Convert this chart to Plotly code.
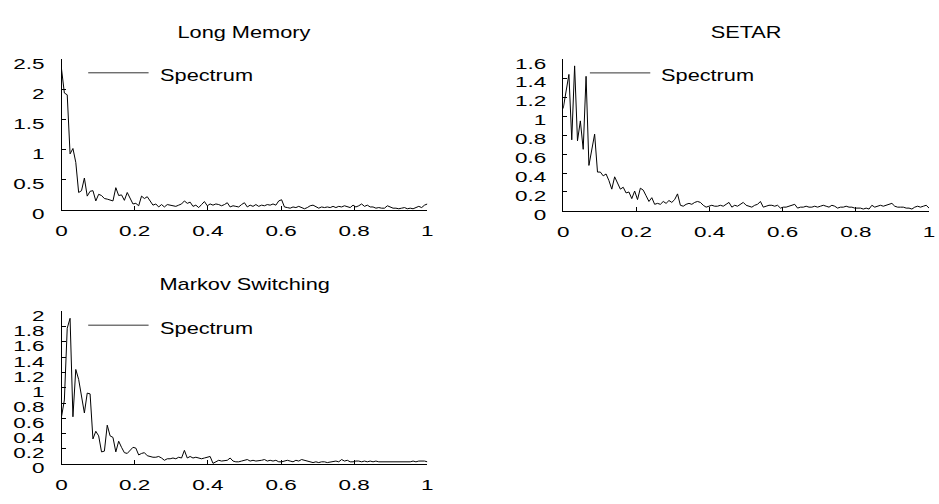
import numpy as np
import plotly.graph_objects as go

# Frequency grid (129 ordinates on [0, 1])
n_points = 129
freq = [i / (n_points - 1) for i in range(n_points)]

long_memory = [
    2.34, 1.94, 1.91, 0.93, 1.02, 0.79, 0.29, 0.32, 0.53, 0.23,
    0.31, 0.32, 0.15, 0.26, 0.24, 0.19, 0.18, 0.17, 0.15, 0.37,
    0.24, 0.25, 0.16, 0.29, 0.18, 0.10, 0.11, 0.07, 0.23, 0.19,
    0.22, 0.14, 0.08, 0.10, 0.05, 0.09, 0.05, 0.09, 0.08, 0.07,
    0.06, 0.08, 0.10, 0.15, 0.11, 0.13, 0.06, 0.08, 0.04, 0.09,
    0.14, 0.07, 0.10, 0.08, 0.10, 0.09, 0.07, 0.09, 0.12, 0.05,
    0.07, 0.06, 0.05, 0.09, 0.12, 0.05, 0.08, 0.06, 0.09, 0.06,
    0.08, 0.07, 0.09, 0.08, 0.10, 0.08, 0.15, 0.17, 0.05, 0.04,
    0.03, 0.05, 0.04, 0.06, 0.04, 0.02, 0.04, 0.07, 0.08, 0.05,
    0.03, 0.05, 0.04, 0.05, 0.04, 0.06, 0.04, 0.06, 0.05, 0.07,
    0.05, 0.04, 0.08, 0.05, 0.07, 0.10, 0.06, 0.08, 0.05, 0.05,
    0.03, 0.04, 0.03, 0.03, 0.07, 0.05, 0.03, 0.03, 0.02, 0.03,
    0.04, 0.02, 0.03, 0.02, 0.04, 0.06, 0.04, 0.08, 0.10,
]

setar = [
    1.08, 1.25, 1.44, 0.75, 1.53, 0.74, 0.95, 0.65, 1.42, 0.48,
    0.64, 0.81, 0.41, 0.41, 0.37, 0.39, 0.32, 0.23, 0.36, 0.30,
    0.23, 0.25, 0.19, 0.20, 0.13, 0.21, 0.12, 0.24, 0.22, 0.16,
    0.10, 0.14, 0.07, 0.08, 0.07, 0.10, 0.08, 0.11, 0.09, 0.12,
    0.18, 0.06, 0.05, 0.07, 0.08, 0.07, 0.09, 0.10, 0.09, 0.06,
    0.04, 0.05, 0.06, 0.05, 0.05, 0.06, 0.05, 0.07, 0.09, 0.04,
    0.06, 0.05, 0.07, 0.09, 0.06, 0.05, 0.04, 0.06, 0.07, 0.10,
    0.04, 0.05, 0.06, 0.06, 0.05, 0.06, 0.03, 0.04, 0.04, 0.05,
    0.06, 0.07, 0.03, 0.04, 0.04, 0.05, 0.04, 0.04, 0.05, 0.04,
    0.05, 0.06, 0.05, 0.04, 0.06, 0.05, 0.03, 0.04, 0.04, 0.05,
    0.04, 0.04, 0.03, 0.03, 0.03, 0.02, 0.03, 0.02, 0.06, 0.04,
    0.05, 0.06, 0.05, 0.06, 0.07, 0.08, 0.05, 0.04, 0.04, 0.04,
    0.03, 0.03, 0.02, 0.04, 0.05, 0.04, 0.05, 0.06, 0.03,
]

markov_switching = [
    0.62, 0.84, 1.78, 1.91, 0.62, 1.24, 1.11, 0.86, 0.67, 0.93,
    0.92, 0.33, 0.43, 0.37, 0.16, 0.17, 0.51, 0.37, 0.35, 0.16,
    0.30, 0.22, 0.15, 0.14, 0.18, 0.22, 0.21, 0.12, 0.14, 0.15,
    0.11, 0.10, 0.09, 0.09, 0.10, 0.08, 0.05, 0.07, 0.07, 0.08,
    0.07, 0.09, 0.08, 0.18, 0.08, 0.10, 0.08, 0.09, 0.08, 0.07,
    0.08, 0.09, 0.10, 0.01, 0.03, 0.05, 0.04, 0.05, 0.05, 0.08,
    0.04, 0.03, 0.03, 0.04, 0.05, 0.06, 0.04, 0.05, 0.04, 0.05,
    0.05, 0.06, 0.04, 0.05, 0.04, 0.05, 0.03, 0.03, 0.04, 0.05,
    0.04, 0.03, 0.05, 0.04, 0.06, 0.05, 0.04, 0.02, 0.02, 0.03,
    0.02, 0.03, 0.03, 0.02, 0.03, 0.03, 0.04, 0.03, 0.06, 0.04,
    0.05, 0.03, 0.03, 0.04, 0.04, 0.03, 0.04, 0.03, 0.04, 0.03,
    0.04, 0.03, 0.03, 0.03, 0.03, 0.03, 0.03, 0.03, 0.03, 0.03,
    0.03, 0.03, 0.03, 0.04, 0.03, 0.04, 0.04, 0.04, 0.03,
]

titles = ["Long Memory", "SETAR", "Markov Switching"]
legend_label = "Spectrum"
x_ticks = [0, 0.2, 0.4, 0.6, 0.8, 1]
x_tick_text = ["0", "0.2", "0.4", "0.6", "0.8", "1"]
y_ticks_lm = [0, 0.5, 1, 1.5, 2, 2.5]
y_ticks_setar = [0, 0.2, 0.4, 0.6, 0.8, 1, 1.2, 1.4, 1.6]
y_ticks_ms = [0, 0.2, 0.4, 0.6, 0.8, 1, 1.2, 1.4, 1.6, 1.8, 2]

W, H = 939, 504
FONT = "Liberation Sans, Arial, sans-serif"
TICK_SIZE = 15
LABEL_SIZE = 16

# panel geometry in pixels: (left, right, top, bottom)
panels = [
    dict(series=long_memory, title=titles[0], box=(58, 427, 52, 208),
         yticks=y_ticks_lm, yrange=[0, 2.5]),
    dict(series=setar, title=titles[1], box=(564, 933, 52, 209),
         yticks=y_ticks_setar, yrange=[0, 1.6]),
    dict(series=markov_switching, title=titles[2], box=(58, 427, 313, 471),
         yticks=y_ticks_ms, yrange=[0, 2]),
]

fig = go.Figure()
layout = dict(
    width=W, height=H,
    margin=dict(l=0, r=0, t=0, b=0),
    paper_bgcolor="white", plot_bgcolor="white",
    showlegend=False,
    font=dict(family=FONT, color="black", size=TICK_SIZE),
)

annotations = []
shapes = []
for k, p in enumerate(panels, start=1):
    left, right, top, bottom = p["box"]
    xa = "xaxis" if k == 1 else f"xaxis{k}"
    ya = "yaxis" if k == 1 else f"yaxis{k}"
    xref = "x" if k == 1 else f"x{k}"
    yref = "y" if k == 1 else f"y{k}"

    fig.add_trace(go.Scatter(
        x=freq, y=p["series"], mode="lines",
        line=dict(color="black", width=1),
        name=legend_label, xaxis=xref, yaxis=yref,
    ))

    axis_common = dict(
        showline=True, linecolor="black", linewidth=1,
        ticks="inside", ticklen=4, tickcolor="black", tickwidth=1,
        showgrid=False, zeroline=False, mirror=False,
        tickfont=dict(family=FONT, size=TICK_SIZE, color="black"),
    )
    layout[xa] = dict(
        axis_common,
        domain=[left / W, right / W], range=[0, 1],
        tickvals=x_ticks, ticktext=x_tick_text,
        anchor=yref, ticklabelstandoff=7,
    )
    layout[ya] = dict(
        axis_common,
        domain=[1 - bottom / H, 1 - top / H], range=p["yrange"],
        tickvals=p["yticks"], ticktext=[f"{v:g}" for v in p["yticks"]],
        anchor=xref, ticklabelstandoff=13,
    )

    # panel title
    annotations.append(dict(
        text=p["title"], x=(left + right) / 2 / W, y=1 - (top - 28) / H,
        xref="paper", yref="paper", xanchor="center", yanchor="middle",
        showarrow=False, font=dict(family=FONT, size=LABEL_SIZE, color="black"),
    ))

    # legend key: short line plus label
    shapes.append(dict(
        type="line", xref=f"{xref} domain", yref=f"{yref} domain",
        x0=0.073, x1=0.238, y0=0.91, y1=0.91,
        line=dict(color="#333333", width=1),
    ))
    annotations.append(dict(
        text=legend_label, x=0.263, y=0.89,
        xref=f"{xref} domain", yref=f"{yref} domain",
        xanchor="left", yanchor="middle", showarrow=False,
        font=dict(family=FONT, size=LABEL_SIZE, color="black"),
    ))

layout["annotations"] = annotations
layout["shapes"] = shapes
fig.update_layout(**layout)

# Wide lettering: stretch every label horizontally about its anchor edge;
# value labels on the y axes sit a few pixels below their tick marks.
widen_js = """
var gd = document.getElementById('{plot_id}');
gd.querySelectorAll('svg text').forEach(function (t) {
    if (t.getAttribute('data-wide')) return;
    var b = t.getBBox();
    if (!b.width) return;
    var cls = (t.parentNode && t.parentNode.getAttribute &&
               t.parentNode.getAttribute('class')) || '';
    var isTick = cls.indexOf('tick') >= 0;
    var isYTick = /^y\\d*tick/.test(cls);
    var s = isTick ? 1.5 : 1.36;
    var anchor = t.getAttribute('text-anchor') || 'start';
    var ax = b.x + b.width / 2;
    if (anchor === 'end') ax = b.x + b.width;
    if (anchor === 'start') ax = b.x;
    if (t.textContent === '%s') ax = b.x;
    var dy = isYTick ? 4 : 0;
    var tr = t.getAttribute('transform') || '';
    t.setAttribute('transform', tr + ' translate(' + ax + ',' + dy +
                   ') scale(' + s + ',1) translate(' + (-ax) + ',0)');
    t.setAttribute('data-wide', '1');
});
""" % legend_label

fig.write_html("out.html", post_script=widen_js)
